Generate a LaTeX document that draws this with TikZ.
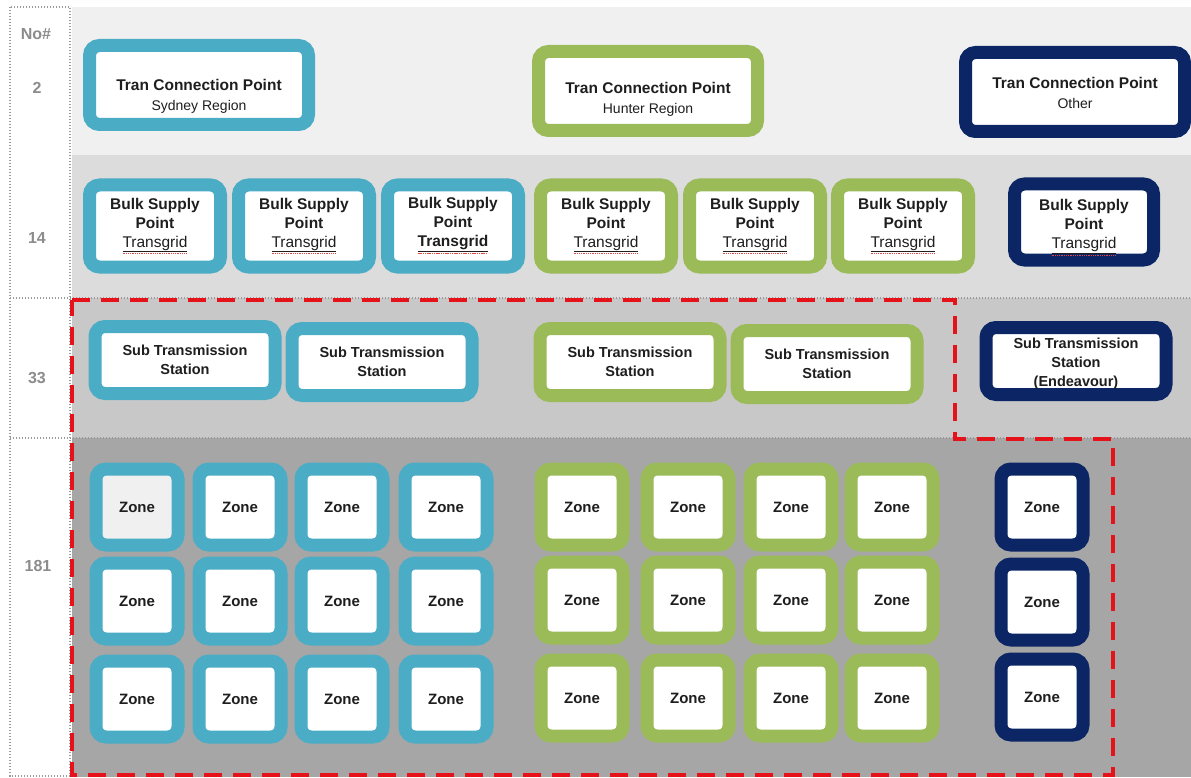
\documentclass[tikz,border=0pt]{standalone}
\usepackage{fontspec}
\setmainfont{Liberation Sans}

\definecolor{tgblue}{HTML}{4BACC6}
\definecolor{tggreen}{HTML}{9BBB59}
\definecolor{tgnavy}{HTML}{0B2565}
\definecolor{txt}{HTML}{1E1E1E}
\definecolor{bandA}{HTML}{F0F0F0}
\definecolor{bandB}{HTML}{DCDCDC}
\definecolor{bandC}{HTML}{C8C8C8}
\definecolor{bandD}{HTML}{A6A6A6}
\definecolor{dashred}{HTML}{E5121A}
\definecolor{spellred}{HTML}{E04848}
\definecolor{rowlabel}{HTML}{8C8C8C}
\definecolor{gridline}{HTML}{9A9A9A}
\definecolor{zonegray}{HTML}{F0F0F0}

% underlined word with a red spell-check mark right beneath it
\newsavebox\spellbox
\newcommand\spell[1]{\sbox\spellbox{#1}\vtop{\offinterlineskip
  \hbox{\underline{\usebox\spellbox}}\kern1.2pt
  \hbox to \wd\spellbox{\color{spellred}\leaders\hbox{\vrule width 1.1pt height 0.8pt\hskip0.7pt}\hfil}}}
% invisible strut that lowers the text block in a box
\newcommand\lift[1]{\rule{0pt}{#1pt}}

\tikzset{
  unit/.style={draw=#1, line width=13pt, rounded corners=10pt, fill=white,
    text=txt, align=center, inner sep=0pt},
  tcp/.style={minimum width=219pt, minimum height=79pt,
    font=\fontsize{14}{20}\selectfont},
  bsp/.style={minimum width=131pt, minimum height=82pt,
    font=\bfseries\fontsize{15.5}{19}\selectfont},
  sts/.style={minimum width=180pt, minimum height=67pt,
    font=\bfseries\fontsize{14.5}{19}\selectfont},
  zone/.style={minimum width=82pt, minimum height=76pt,
    font=\bfseries\fontsize{15}{17}\selectfont},
  rowno/.style={text=rowlabel, font=\bfseries\fontsize{16}{16}\selectfont},
  grid/.style={draw=gridline, line width=1.3pt, dash pattern=on 1.3pt off 1.7pt},
  scope/.style={draw=dashred, line width=4.5pt, dash pattern=on 18pt off 11pt},
  zfill11/.style={fill=zonegray}
}
\newcommand\ttl{\bfseries\fontsize{15.5}{20}\selectfont}
\newcommand\sub{\mdseries\fontsize{14}{20}\selectfont}

\begin{document}
\begin{tikzpicture}[x=1pt, y=-1pt]
\useasboundingbox (0,0) rectangle (1191,778);
\fill[white] (0,0) rectangle (1191,778);

% level bands
\fill[bandA] (72,7) rectangle (1191,155);
\fill[bandB] (72,155) rectangle (1191,298);
\fill[bandC] (72,298) rectangle (1191,438);
\fill[bandD] (72,438) rectangle (1191,777);

% count column and level separators
\draw[grid] (10,7) rectangle (70,776);
\draw[grid] (10,298) -- (1191,298);
\draw[grid] (10,438) -- (1191,438);

\node[rowno] (hdr) at (36,34) {No\#};
\node[rowno] (n2) at (37,88) {2};
\node[rowno] (n14) at (37,238) {14};
\node[rowno] (n33) at (37,378) {33};
\node[rowno] (n181) at (38,566) {181};

% transmission connection points
\node[unit=tgblue, tcp] (tcpS) at (199,85)
  {\ttl\lift{33}Tran Connection Point\\ \sub Sydney Region};
\node[unit=tggreen, tcp] (tcpH) at (648,91)
  {\ttl\lift{27}Tran Connection Point\\ \sub Hunter Region};
\node[unit=tgnavy, tcp] (tcpO) at (1075,92)
  {\ttl\lift{14}Tran Connection Point\\ \sub Other};

% bulk supply points
\node[unit=tgblue, bsp] (bsp1) at (155,226) {Bulk Supply\\Point\\{\mdseries\spell{Transgrid}}};
\node[unit=tgblue, bsp] (bsp2) at (304,226) {Bulk Supply\\Point\\{\mdseries\spell{Transgrid}}};
\node[unit=tgblue, bsp] (bsp3) at (453,226) {Bulk Supply\\Point\\\spell{Transgrid}};
\node[unit=tggreen, bsp] (bsp4) at (606,226) {Bulk Supply\\Point\\{\mdseries\spell{Transgrid}}};
\node[unit=tggreen, bsp] (bsp5) at (755,226) {Bulk Supply\\Point\\{\mdseries\spell{Transgrid}}};
\node[unit=tggreen, bsp] (bsp6) at (903,226) {Bulk Supply\\Point\\{\mdseries\spell{Transgrid}}};
\node[unit=tgnavy, bsp, minimum width=139pt, minimum height=76pt] (bsp7) at (1084,222)
  {\lift{22}Bulk Supply\\Point\\{\mdseries\spell{Transgrid}}};

% sub transmission stations
\node[unit=tgblue, sts] (sts1) at (185,360) {Sub Transmission\\Station};
\node[unit=tgblue, sts] (sts2) at (382,362) {Sub Transmission\\Station};
\node[unit=tggreen, sts] (sts3) at (630,362) {Sub Transmission\\Station};
\node[unit=tggreen, sts] (sts4) at (827,364) {Sub Transmission\\Station};
\node[unit=tgnavy, sts] (sts5) at (1076,361) {\lift{16}Sub Transmission\\Station\\(Endeavour)};

% zone substations
\foreach \c/\x in {1/137, 2/240, 3/342, 4/446}
  \foreach \r/\y in {1/507, 2/601, 3/699}
    \node[unit=tgblue, zone, zfill\r\c/.try] (zb-\r-\c) at (\x,\y) {Zone};
\foreach \c/\x in {1/582, 2/688, 3/791, 4/892}
  \foreach \r/\y in {1/507, 2/600, 3/698}
    \node[unit=tggreen, zone] (zg-\r-\c) at (\x,\y) {Zone};
\foreach \r/\y in {1/507, 2/602, 3/697}
  \node[unit=tgnavy, zone] (zn-\r) at (1042,\y) {Zone};

% scope boundary
\draw[scope] (72,300) -- (955,300) -- (955,439) -- (1113,439) -- (1113,775) -- (72,775) -- cycle;
\end{tikzpicture}
\end{document}
